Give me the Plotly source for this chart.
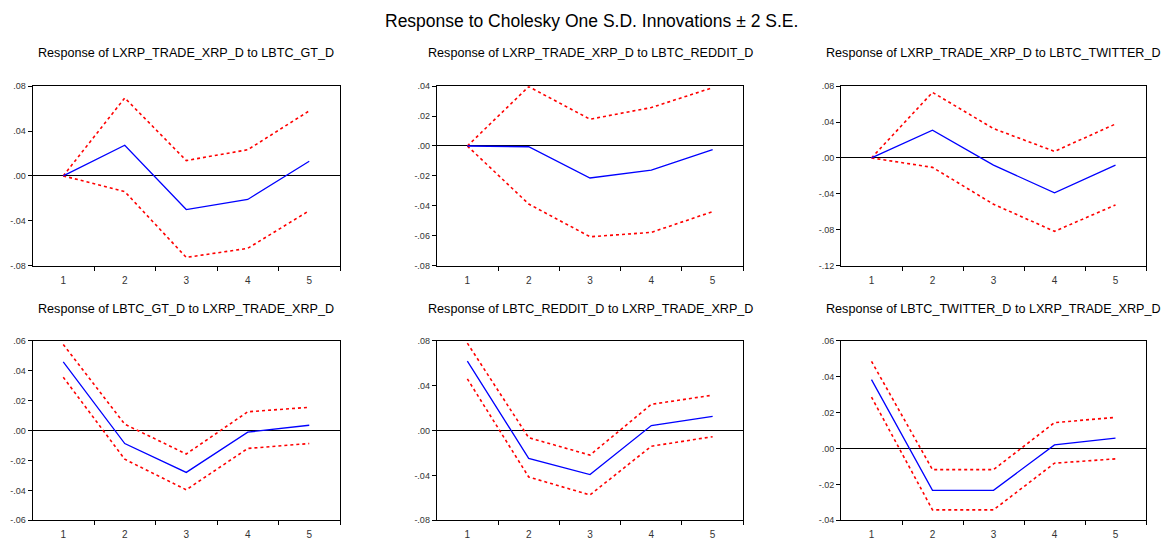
import plotly.graph_objects as go

periods = [1, 2, 3, 4, 5]

titles = [
    "Response of LXRP_TRADE_XRP_D to LBTC_GT_D",
    "Response of LXRP_TRADE_XRP_D to LBTC_REDDIT_D",
    "Response of LXRP_TRADE_XRP_D to LBTC_TWITTER_D",
    "Response of LBTC_GT_D to LXRP_TRADE_XRP_D",
    "Response of LBTC_REDDIT_D to LXRP_TRADE_XRP_D",
    "Response of LBTC_TWITTER_D to LXRP_TRADE_XRP_D",
]

resp_1 = [0.0, 0.0273, -0.0300, -0.0210, 0.0130]
upper_1 = [0.0, 0.0695, 0.0137, 0.0233, 0.0580]
lower_1 = [0.0, -0.0140, -0.0727, -0.0646, -0.0310]

resp_2 = [0.0, -0.0005, -0.0214, -0.0161, -0.0024]
upper_2 = [0.0, 0.0397, 0.0179, 0.0257, 0.0390]
lower_2 = [0.0, -0.0388, -0.0607, -0.0578, -0.0439]

resp_3 = [0.0, 0.0309, -0.0080, -0.0389, -0.0080]
upper_3 = [0.0, 0.0731, 0.0327, 0.0073, 0.0378]
lower_3 = [0.0, -0.0105, -0.0516, -0.0818, -0.0524]

resp_4 = [0.0459, -0.0087, -0.0280, -0.0011, 0.0035]
upper_4 = [0.0575, 0.0042, -0.0157, 0.0125, 0.0155]
lower_4 = [0.0356, -0.0192, -0.0396, -0.0120, -0.0087]

resp_5 = [0.0618, -0.0248, -0.0393, 0.0044, 0.0125]
upper_5 = [0.0778, -0.0064, -0.0219, 0.0233, 0.0315]
lower_5 = [0.0460, -0.0414, -0.0574, -0.0140, -0.0055]

resp_6 = [0.0383, -0.0233, -0.0233, 0.0020, 0.0058]
upper_6 = [0.0485, -0.0118, -0.0118, 0.0144, 0.0173]
lower_6 = [0.0286, -0.0342, -0.0342, -0.0082, -0.0058]

ytick_vals_1 = [-0.08, -0.04, 0.0, 0.04, 0.08]
ytick_text_1 = ["-.08", "-.04", ".00", ".04", ".08"]
ytick_vals_2 = [-0.08, -0.06, -0.04, -0.02, 0.0, 0.02, 0.04]
ytick_text_2 = ["-.08", "-.06", "-.04", "-.02", ".00", ".02", ".04"]
ytick_vals_3 = [-0.12, -0.08, -0.04, 0.0, 0.04, 0.08]
ytick_text_3 = ["-.12", "-.08", "-.04", ".00", ".04", ".08"]
ytick_vals_4 = [-0.06, -0.04, -0.02, 0.0, 0.02, 0.04, 0.06]
ytick_text_4 = ["-.06", "-.04", "-.02", ".00", ".02", ".04", ".06"]
ytick_vals_5 = [-0.08, -0.04, 0.0, 0.04, 0.08]
ytick_text_5 = ["-.08", "-.04", ".00", ".04", ".08"]
ytick_vals_6 = [-0.04, -0.02, 0.0, 0.02, 0.04, 0.06]
ytick_text_6 = ["-.04", "-.02", ".00", ".02", ".04", ".06"]

panels = [
    (resp_1, upper_1, lower_1, ytick_vals_1, ytick_text_1),
    (resp_2, upper_2, lower_2, ytick_vals_2, ytick_text_2),
    (resp_3, upper_3, lower_3, ytick_vals_3, ytick_text_3),
    (resp_4, upper_4, lower_4, ytick_vals_4, ytick_text_4),
    (resp_5, upper_5, lower_5, ytick_vals_5, ytick_text_5),
    (resp_6, upper_6, lower_6, ytick_vals_6, ytick_text_6),
]

W, H = 1168, 542
col_px = [(32.5, 340), (436.7, 743.3), (841, 1146)]
row_px = [(82.7, 265.5), (342, 525)]
title_y_px = [49, 310]

fig = go.Figure()
FONT = "Liberation Sans, Arial, sans-serif"

for i, (resp, up, lo, tv, tt) in enumerate(panels):
    r, c = divmod(i, 3)
    n = i + 1
    xa = "x" if n == 1 else f"x{n}"
    ya = "y" if n == 1 else f"y{n}"
    for series, color, dash, width in [
        (up, "#ff0000", "dot", 1.6),
        (lo, "#ff0000", "dot", 1.6),
        (resp, "#0000ff", "solid", 1.3),
    ]:
        fig.add_trace(go.Scatter(
            x=periods, y=series, mode="lines",
            line=dict(color=color, dash=dash, width=width),
            xaxis=xa, yaxis=ya, showlegend=False, hoverinfo="skip"))
    x0, x1 = col_px[c]
    y0, y1 = row_px[r]
    xdom = [x0 / W, x1 / W]
    ydom = [1 - y1 / H, 1 - y0 / H]
    xkey = "xaxis" if n == 1 else f"xaxis{n}"
    ykey = "yaxis" if n == 1 else f"yaxis{n}"
    fig.update_layout(**{
        xkey: dict(
            domain=xdom, anchor=ya, range=[0.5, 5.5],
            tickmode="array", tickvals=periods, ticktext=[str(p) for p in periods],
            ticks="outside", ticklen=5, tickcolor="rgba(0,0,0,0)",
            minor=dict(tickmode="array", tickvals=[1.5, 2.5, 3.5, 4.5, 5.5],
                       ticks="outside", ticklen=4, tickcolor="black", tickwidth=1),
            showline=True, linecolor="black", linewidth=1, mirror=True,
            showgrid=False, zeroline=False,
            tickfont=dict(family=FONT, size=10, color="#333"),
            fixedrange=True,
        ),
        ykey: dict(
            domain=ydom, anchor=xa, range=[tv[0], tv[-1]],
            tickmode="array", tickvals=tv, ticktext=tt,
            ticks="outside", ticklen=4, tickcolor="black", tickwidth=1,
            showline=True, linecolor="black", linewidth=1, mirror=True,
            showgrid=False, zeroline=True, zerolinecolor="black", zerolinewidth=1,
            tickfont=dict(family=FONT, size=9, color="#333"),
            fixedrange=True,
        ),
    })
    fig.add_annotation(
        text=titles[i], xref="paper", yref="paper",
        x=(x0 + x1) / 2 / W, y=1 - title_y_px[r] / H,
        xanchor="center", yanchor="middle", showarrow=False,
        font=dict(family=FONT, size=12.6, color="black"))

fig.add_annotation(
    text="Response to Cholesky One S.D. Innovations \u00b1 2 S.E.",
    xref="paper", yref="paper", x=591 / W, y=1 - 16 / H,
    xanchor="center", yanchor="middle", showarrow=False,
    font=dict(family=FONT, size=17.5, color="black"))

fig.update_layout(
    width=W, height=H, margin=dict(l=0, r=0, t=0, b=0),
    paper_bgcolor="white", plot_bgcolor="white",
)

fig.write_html("out.html", config={"displayModeBar": False})
